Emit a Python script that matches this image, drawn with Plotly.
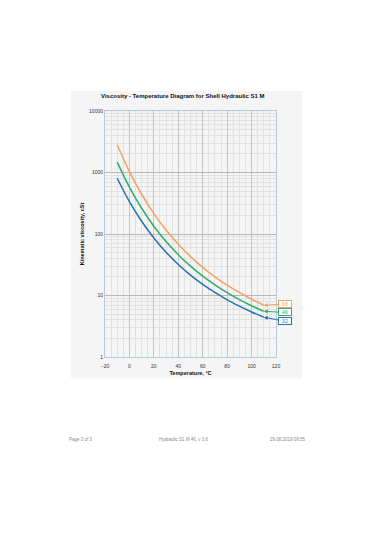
import math
import plotly.graph_objects as go

temps = [-10, 0, 10, 20, 30, 40, 50, 60, 70, 80, 90, 100, 110]
visc_68 = [2827, 1034, 443, 215, 116, 68, 42.9, 28.7, 20.1, 14.7, 11.2, 8.7, 6.96]
visc_46 = [1473, 578, 262, 134, 75.3, 46, 30.0, 20.6, 14.9, 11.1, 8.57, 6.8, 5.52]
visc_32 = [806, 336, 161, 86.3, 50.7, 32, 21.5, 15.2, 11.2, 8.5, 6.7, 5.4, 4.44]
grades = ["68", "46", "32"]
colors = ["#F2A262", "#2EAD6C", "#2870B2"]
x_ticks = [-20, 0, 20, 40, 60, 80, 100, 120]
y_ticks = [1, 10, 100, 1000, 10000]
y_ticktext = ["1", "10", "100", "1000", "10000"]
label_offsets = [(21, -1), (21, 1), (21, 4)]

FONT = "Liberation Sans, Arial, sans-serif"

fig = go.Figure()
for g, vals, c in zip(grades, [visc_68, visc_46, visc_32], colors):
    fig.add_trace(go.Scatter(x=temps, y=vals, mode="lines", name=g,
                             line=dict(color=c, width=1.5, shape="spline"),
                             showlegend=False, hoverinfo="skip"))

for g, vals, c, (ax, ay) in zip(grades, [visc_68, visc_46, visc_32], colors, label_offsets):
    # annotation positions on a log axis are given in log10 units
    fig.add_annotation(x=temps[-1], y=math.log10(vals[-1]), xref="x", yref="y",
                       text=g, showarrow=True, ax=ax, ay=ay,
                       arrowhead=2, arrowsize=0.8, arrowwidth=1, arrowcolor=c,
                       font=dict(family=FONT, size=5, color=c),
                       bordercolor=c, borderwidth=1, borderpad=0, bgcolor="white",
                       width=12)

# grey panel behind the chart
L, R, T, B = 105, 276, 111, 357.5
pw, ph = R - L, B - T
fig.add_shape(type="rect", xref="paper", yref="paper", layer="below",
              x0=(71 - L) / pw, x1=(302 - L) / pw,
              y0=(B - 379) / ph, y1=(B - 91) / ph,
              fillcolor="#f5f5f5", line=dict(width=0))

fig.add_annotation(text="<b>Viscosity - Temperature Diagram for Shell Hydraulic S1 M</b>",
                   xref="paper", yref="paper", x=(183 - L) / pw, y=(B - 95.5) / ph,
                   showarrow=False, font=dict(family=FONT, size=6, color="#111"),
                   xanchor="center", yanchor="middle")

# footer
for txt, xc in [("Page 3 of 3", 81), ("Hydraulic S1 M 46, v 3.6", 184), ("29.08.2019 09:55", 288)]:
    fig.add_annotation(text=txt, xref="paper", yref="paper", x=(xc - L) / pw,
                       y=(B - 440) / ph, showarrow=False,
                       font=dict(family=FONT, size=4.5, color="#888"),
                       xanchor="center", yanchor="middle")

fig.update_xaxes(range=[-20, 120], tickvals=x_ticks, ticks="outside", ticklen=4,
                 tickcolor="rgba(0,0,0,0)",
                 tickfont=dict(family=FONT, size=5, color="#333"),
                 showgrid=True, gridcolor="#c4c4c4", gridwidth=1,
                 minor=dict(dtick=5, showgrid=True, gridcolor="#e2e2e2", gridwidth=1),
                 showline=True, linecolor="#b9c9d9", linewidth=1, mirror=True,
                 zeroline=False,
                 title=dict(text="<b>Temperature, °C</b>", standoff=3,
                            font=dict(family=FONT, size=5.5, color="#111")))
fig.update_yaxes(type="log", range=[0, 4], tickvals=y_ticks, ticktext=y_ticktext, ticks="",
                 tickfont=dict(family=FONT, size=5, color="#333"),
                 showgrid=True, gridcolor="#b8b8b8", gridwidth=1,
                 minor=dict(dtick="D1", showgrid=True, gridcolor="#e2e2e2", gridwidth=1),
                 showline=True, linecolor="#b9c9d9", linewidth=1, mirror=True,
                 zeroline=False,
                 title=dict(text="<b>Kinematic viscosity, cSt</b>", standoff=4,
                            font=dict(family=FONT, size=5.5, color="#111")))

fig.update_layout(width=375, height=535, autosize=False,
                  margin=dict(l=L, r=375 - R, t=T, b=535 - B),
                  paper_bgcolor="white", plot_bgcolor="white",
                  showlegend=False)

fig.write_html("out.html", config={"displayModeBar": False})
